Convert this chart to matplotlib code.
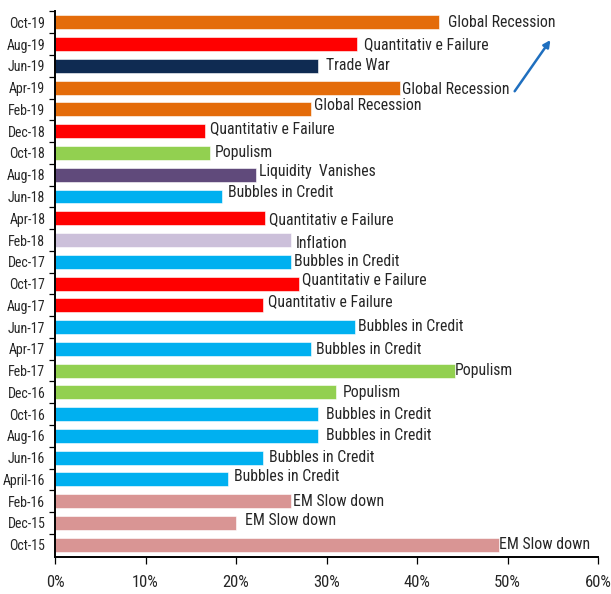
import matplotlib
matplotlib.use("Agg")
import matplotlib.pyplot as plt

plt.rcParams['font.family'] = ['Roboto Condensed', 'DejaVu Sans']

# Data (bottom to top)
dates = ["Oct-15", "Dec-15", "Feb-16", "April-16", "Jun-16", "Aug-16", "Oct-16", "Dec-16",
         "Feb-17", "Apr-17", "Jun-17", "Aug-17", "Oct-17", "Dec-17", "Feb-18", "Apr-18",
         "Jun-18", "Aug-18", "Oct-18", "Dec-18", "Feb-19", "Apr-19", "Jun-19", "Aug-19", "Oct-19"]
values = [49.1, 20.0, 26.1, 19.1, 23.0, 29.0, 29.0, 31.0,
          44.2, 28.3, 33.1, 23.0, 27.0, 26.1, 26.1, 23.2,
          18.4, 22.2, 17.1, 16.6, 28.3, 38.1, 29.0, 33.4, 42.4]
risks = ["EM Slow down", "EM Slow down", "EM Slow down", "Bubbles in Credit", "Bubbles in Credit",
         "Bubbles in Credit", "Bubbles in Credit", "Populism", "Populism", "Bubbles in Credit",
         "Bubbles in Credit", "Quantitativ e Failure", "Quantitativ e Failure", "Bubbles in Credit",
         "Inflation", "Quantitativ e Failure", "Bubbles in Credit", "Liquidity  Vanishes", "Populism",
         "Quantitativ e Failure", "Global Recession", "Global Recession", "Trade War",
         "Quantitativ e Failure", "Global Recession"]

risk_colors = {
    "EM Slow down": "#D99594",
    "Bubbles in Credit": "#00B0F0",
    "Populism": "#92D050",
    "Quantitativ e Failure": "#FF0000",
    "Inflation": "#CCC0DA",
    "Liquidity  Vanishes": "#604A7B",
    "Global Recession": "#E46C0A",
    "Trade War": "#0F2B52",
}

# label offsets in pixels (dx, dy up)
label_dx = [0, 9, 2, 6, 6, 8, 8, 7, 0, 5, 3, 5, 3, 3, 4, 4, 6, 3, 5, 5, 3, 2, 8, 7, 9]
label_dy = [0, 2, 0, 3, 0, 0, 0, 0, 0, -1, 1, 4, 4, 0, -3, -1, 4, 3, 0, 3, 4, -2, 0, -1, 0]

fig = plt.figure(figsize=(6.11, 5.94), dpi=100)
ax = fig.add_axes([0.09, 0.0628, 0.889, 0.919])

ypos = list(range(len(dates)))
cols = [risk_colors[r] for r in risks]
ax.barh(ypos, values, height=0.64, color=cols, edgecolor='white', linewidth=0.4)

for y, v, r, dx, dy in zip(ypos, values, risks, label_dx, label_dy):
    ax.annotate(r, xy=(v, y), xytext=(dx * 0.72, dy * 0.72), textcoords='offset points',
                ha='left', va='center', fontsize=11.3, color='#262626')

ax.set_xlim(0, 60)
ax.set_ylim(-0.55, 24.53)
ax.set_xticks(range(0, 61, 10))
ax.set_xticklabels([f"{t}%" for t in range(0, 61, 10)], fontsize=12, color='#262626')
ax.set_yticks(ypos)
ax.set_yticklabels(dates, fontsize=10, color='#262626')
ax.set_yticks([y + 0.5 for y in ypos[:-1]] + [24.53], minor=True)
ax.tick_params(axis='y', which='major', length=0, pad=7)
ax.tick_params(axis='y', which='minor', length=4, direction='out', width=0.9)
ax.tick_params(axis='x', which='major', length=5, direction='out', width=0.9, pad=8)

for s in ['top', 'right']:
    ax.spines[s].set_visible(False)
for s in ['left', 'bottom']:
    ax.spines[s].set_linewidth(1.4)
    ax.spines[s].set_color('black')

ax.annotate("", xy=(54.9, 23.29), xytext=(50.6, 20.73),
            arrowprops=dict(arrowstyle='-|>', color='#1F6FBF', lw=1.8, mutation_scale=10),
            annotation_clip=False)

fig.savefig("out.png", dpi=100)
